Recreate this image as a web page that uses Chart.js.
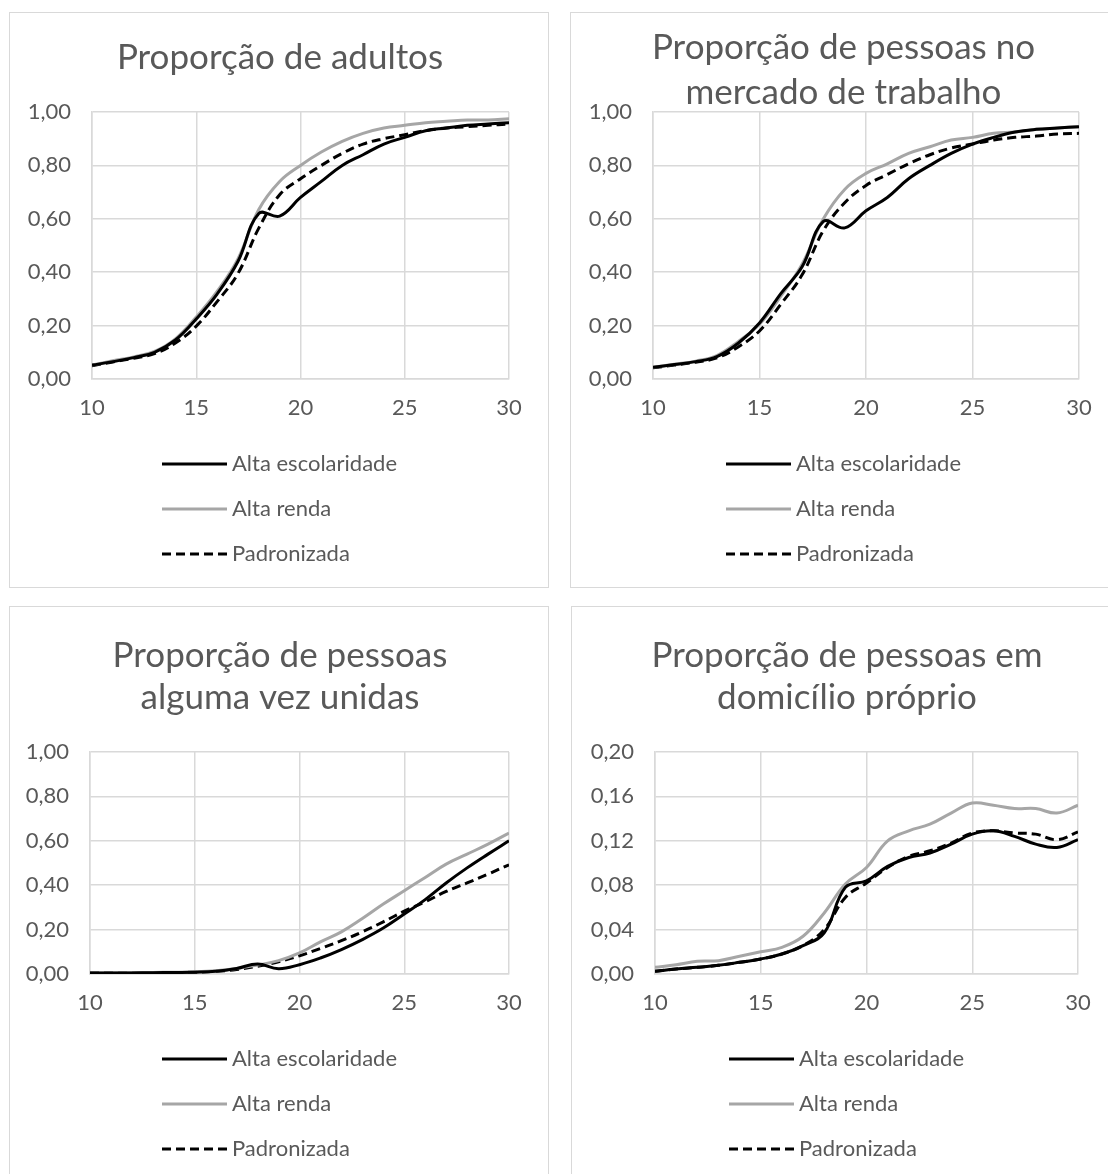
<!DOCTYPE html>
<html>
<head>
<meta charset="utf-8">
<script src="https://cdn.jsdelivr.net/npm/chart.js@4.4.1/dist/chart.umd.min.js"></script>
<style>
  html, body { margin: 0; padding: 0; background: #fff; width: 1108px; height: 1174px; overflow: hidden; position: relative; }
  .panel { position: absolute; border: 1px solid #d9d9d9; box-sizing: border-box; background: #fff; overflow: hidden; }
  .panel canvas { position: absolute; left: 0; top: 0; }
</style>
</head>
<body>
<div class="panel" id="p1"><canvas id="c1"></canvas></div>
<div class="panel" id="p2"><canvas id="c2"></canvas></div>
<div class="panel" id="p3"><canvas id="c3"></canvas></div>
<div class="panel" id="p4"><canvas id="c4"></canvas></div>
<script>
// Idade (anos)
const ages = [10, 11, 12, 13, 14, 15, 16, 17, 18, 19, 20, 21, 22, 23, 24, 25, 26, 27, 28, 29, 30];
const seriesNames = ['Alta escolaridade', 'Alta renda', 'Padronizada'];

// Proporção de adultos
const adultosEsc   = [0.052, 0.065, 0.080, 0.100, 0.146, 0.225, 0.318, 0.440, 0.620, 0.610, 0.680, 0.740, 0.800, 0.840, 0.880, 0.905, 0.930, 0.940, 0.950, 0.955, 0.960];
const adultosRenda = [0.052, 0.068, 0.083, 0.103, 0.150, 0.232, 0.328, 0.450, 0.635, 0.740, 0.800, 0.850, 0.890, 0.920, 0.940, 0.950, 0.960, 0.965, 0.970, 0.970, 0.975];
const adultosPad   = [0.050, 0.064, 0.078, 0.095, 0.135, 0.198, 0.290, 0.395, 0.565, 0.690, 0.750, 0.800, 0.845, 0.880, 0.900, 0.915, 0.930, 0.940, 0.945, 0.950, 0.955];

// Proporção de pessoas no mercado de trabalho
const trabalhoEsc   = [0.044, 0.054, 0.065, 0.084, 0.134, 0.210, 0.320, 0.420, 0.590, 0.566, 0.630, 0.680, 0.750, 0.800, 0.845, 0.880, 0.905, 0.925, 0.935, 0.940, 0.945];
const trabalhoRenda = [0.044, 0.055, 0.067, 0.088, 0.140, 0.205, 0.310, 0.430, 0.600, 0.710, 0.770, 0.806, 0.845, 0.870, 0.895, 0.905, 0.920, 0.925, 0.935, 0.940, 0.945];
const trabalhoPad   = [0.042, 0.052, 0.063, 0.079, 0.120, 0.180, 0.280, 0.390, 0.556, 0.660, 0.725, 0.766, 0.806, 0.840, 0.865, 0.880, 0.895, 0.905, 0.910, 0.918, 0.920];

// Proporção de pessoas alguma vez unidas
const unidasEsc   = [0.005, 0.005, 0.005, 0.006, 0.007, 0.008, 0.012, 0.025, 0.045, 0.024, 0.042, 0.072, 0.110, 0.155, 0.207, 0.270, 0.335, 0.410, 0.478, 0.540, 0.600];
const unidasRenda = [0.005, 0.005, 0.006, 0.007, 0.008, 0.010, 0.015, 0.025, 0.040, 0.060, 0.095, 0.145, 0.190, 0.250, 0.315, 0.375, 0.435, 0.495, 0.540, 0.585, 0.635];
const unidasPad   = [0.005, 0.005, 0.005, 0.006, 0.007, 0.008, 0.012, 0.020, 0.035, 0.055, 0.082, 0.115, 0.150, 0.190, 0.235, 0.283, 0.325, 0.372, 0.410, 0.450, 0.492];

// Proporção de pessoas em domicílio próprio
const domicilioEsc   = [0.0024, 0.0045, 0.0060, 0.0078, 0.0105, 0.0135, 0.0180, 0.0256, 0.037, 0.078, 0.084, 0.097, 0.105, 0.109, 0.117, 0.126, 0.129, 0.124, 0.117, 0.114, 0.121];
const domicilioRenda = [0.0060, 0.0084, 0.0114, 0.0120, 0.0160, 0.0200, 0.0240, 0.0340, 0.055, 0.081, 0.096, 0.120, 0.129, 0.135, 0.145, 0.154, 0.152, 0.149, 0.149, 0.145, 0.152];
const domicilioPad   = [0.0024, 0.0045, 0.0060, 0.0078, 0.0105, 0.0135, 0.0180, 0.0256, 0.040, 0.069, 0.082, 0.096, 0.106, 0.111, 0.118, 0.127, 0.129, 0.127, 0.126, 0.121, 0.128];

// Escalas
const xTicks = { min: 10, max: 30, step: 5 };
const yScaleUnit = { max: 1.0, step: 0.2 };
const yScaleSmall = { max: 0.2, step: 0.04 };

const panels = [
  { canvas: 'c1', box: 'p1', title: ['Proporção de adultos'], esc: adultosEsc, renda: adultosRenda, pad: adultosPad, y: yScaleUnit,
    frame: { left: 9, top: 12, w: 540, h: 576 }, area: { l: 82, r: 499, t: 99, b: 366 }, titleY: [45] },
  { canvas: 'c2', box: 'p2', title: ['Proporção de pessoas no', 'mercado de trabalho'], esc: trabalhoEsc, renda: trabalhoRenda, pad: trabalhoPad, y: yScaleUnit,
    frame: { left: 570, top: 12, w: 545, h: 576 }, area: { l: 82, r: 508, t: 99, b: 366 }, titleY: [35, 80] },
  { canvas: 'c3', box: 'p3', title: ['Proporção de pessoas', 'alguma vez unidas'], esc: unidasEsc, renda: unidasRenda, pad: unidasPad, y: yScaleUnit,
    frame: { left: 9, top: 606, w: 540, h: 600 }, area: { l: 80, r: 499, t: 145, b: 367 }, titleY: [49, 91] },
  { canvas: 'c4', box: 'p4', title: ['Proporção de pessoas em', 'domicílio próprio'], esc: domicilioEsc, renda: domicilioRenda, pad: domicilioPad, y: yScaleSmall,
    frame: { left: 571, top: 606, w: 550, h: 600 }, area: { l: 83, r: 506, t: 145, b: 367 }, titleY: [49, 91] }
];

const FONT = 'Lato, "Open Sans", sans-serif';
const TEXT = '#595959';
const GRID = '#d9d9d9';
const TITLE_SIZE = 35;
const LABEL_SIZE = 22;
const X_AXIS_H = 50;
const LEGEND_ROWS = [85, 130, 175];   // offsets below the plot bottom
const LEGEND_SAMPLE = 65;

function pts(values) {
  return ages.map((a, i) => ({ x: a, y: values[i] }));
}

function makeTitlePlugin(p) {
  return {
    id: 'panelTitle',
    afterDraw(chart) {
      const ctx = chart.ctx;
      ctx.save();
      ctx.fillStyle = TEXT;
      ctx.font = TITLE_SIZE + 'px ' + FONT;
      ctx.textAlign = 'center';
      ctx.textBaseline = 'middle';
      p.title.forEach((line, i) => ctx.fillText(line, chart.width / 2, p.titleY[i]));
      ctx.restore();
    }
  };
}

const legendPlugin = {
  id: 'stackedLegend',
  afterDraw(chart) {
    const ctx = chart.ctx;
    ctx.save();
    ctx.font = LABEL_SIZE + 'px ' + FONT;
    const textW = Math.max(...chart.data.datasets.map(d => ctx.measureText(d.label).width));
    const blockW = LEGEND_SAMPLE + 5 + textW;
    const x0 = Math.round(chart.width / 2 - blockW / 2);
    const yBase = chart.chartArea.bottom;
    chart.data.datasets.forEach((ds, i) => {
      const y = yBase + LEGEND_ROWS[i];
      ctx.beginPath();
      ctx.strokeStyle = ds.borderColor;
      ctx.lineWidth = ds.borderWidth;
      ctx.setLineDash(ds.borderDash || []);
      ctx.moveTo(x0, y);
      ctx.lineTo(x0 + LEGEND_SAMPLE, y);
      ctx.stroke();
      ctx.setLineDash([]);
      ctx.fillStyle = TEXT;
      ctx.textAlign = 'left';
      ctx.textBaseline = 'middle';
      ctx.fillText(ds.label, x0 + LEGEND_SAMPLE + 5, y);
    });
    ctx.restore();
  }
};

panels.forEach(p => {
  const box = document.getElementById(p.box);
  box.style.left = p.frame.left + 'px';
  box.style.top = p.frame.top + 'px';
  box.style.width = p.frame.w + 'px';
  box.style.height = p.frame.h + 'px';
  const cv = document.getElementById(p.canvas);
  cv.width = p.frame.w;
  cv.height = p.frame.h;

  new Chart(cv.getContext('2d'), {
    type: 'line',
    data: {
      datasets: [
        { label: seriesNames[0], data: pts(p.esc), borderColor: '#000000', borderWidth: 3 },
        { label: seriesNames[1], data: pts(p.renda), borderColor: '#a6a6a6', borderWidth: 3 },
        { label: seriesNames[2], data: pts(p.pad), borderColor: '#000000', borderWidth: 3, borderDash: [9, 5] }
      ]
    },
    options: {
      responsive: false,
      animation: false,
      layout: { padding: { left: 0, top: p.area.t, right: p.frame.w - p.area.r, bottom: p.frame.h - p.area.b - X_AXIS_H } },
      elements: {
        point: { radius: 0 },
        line: { tension: 0.4, fill: false, borderCapStyle: 'butt', borderJoinStyle: 'round' }
      },
      scales: {
        x: {
          type: 'linear', min: xTicks.min, max: xTicks.max,
          ticks: { stepSize: xTicks.step, color: TEXT, font: { family: FONT, size: LABEL_SIZE }, padding: 16, maxRotation: 0 },
          grid: { color: GRID, lineWidth: 1.5, drawTicks: false },
          border: { color: GRID, width: 1.5 },
          afterFit(s) { s.height = X_AXIS_H; }
        },
        y: {
          min: 0, max: p.y.max,
          ticks: { stepSize: p.y.step, color: TEXT, font: { family: FONT, size: LABEL_SIZE }, padding: 21,
                   callback: v => v.toFixed(2).replace('.', ',') },
          grid: { color: GRID, lineWidth: 1.5, drawTicks: false },
          border: { color: GRID, width: 1.5 },
          afterFit(s) { s.width = p.area.l; }
        }
      },
      plugins: { legend: { display: false }, tooltip: { enabled: false }, title: { display: false } }
    },
    plugins: [makeTitlePlugin(p), legendPlugin]
  });
});
</script>
</body>
</html>
